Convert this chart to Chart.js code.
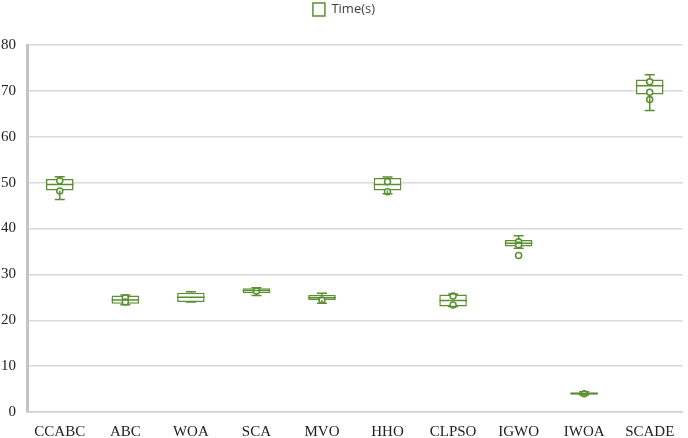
<!DOCTYPE html>
<html>
<head>
<meta charset="utf-8">
<script src="https://cdn.jsdelivr.net/npm/chart.js@4"></script>
<style>
  html, body { margin: 0; padding: 0; background: #fff; }
  #wrap { width: 688px; height: 438px; }
</style>
</head>
<body>
<div id="wrap"><canvas id="boxChart"></canvas></div>
<script>
const categories = ['CCABC', 'ABC', 'WOA', 'SCA', 'MVO', 'HHO', 'CLPSO', 'IGWO', 'IWOA', 'SCADE'];
const q1 = [48.3, 23.6, 24.0, 25.9, 24.4, 48.3, 23.0, 36.1, 3.8, 69.2];
const q3 = [50.8, 25.4, 26.0, 27.0, 25.5, 51.0, 25.6, 37.5, 4.3, 72.5];
const medians = [49.6, 24.4, 25.0, 26.5, 24.9, 49.6, 24.3, 36.8, 4.0, 71.1];
const whiskerLow = [46.3, 23.4, 24.0, 25.4, 23.7, 47.6, 23.0, 35.7, 3.7, 65.7];
const whiskerHigh = [51.3, 25.5, 26.2, 27.1, 25.9, 51.2, 25.7, 38.4, 4.4, 73.5];
const innerPoints = [
  [50.4, 48.2],
  [24.9, 24.0],
  [],
  [26.4],
  [24.4],
  [50.2, 48.0],
  [25.3, 23.3],
  [37.1, 36.4, 34.1],
  [4.0],
  [72.0, 69.7, 68.1]
];

const green = '#5b8f31';

const pointData = [];
innerPoints.forEach((vals, i) => {
  vals.forEach(v => pointData.push({ x: categories[i], y: v }));
});

// whiskers, caps and median lines drawn on top of the boxes
const whiskerPlugin = {
  id: 'whiskers',
  afterDatasetsDraw(chart) {
    const ctx = chart.ctx;
    const x = chart.scales.x;
    const y = chart.scales.y;
    const meta = chart.getDatasetMeta(0);
    ctx.save();
    ctx.strokeStyle = green;
    ctx.lineWidth = 1.5;
    categories.forEach((c, i) => {
      const cx = x.getPixelForValue(i);
      const half = meta.data[i].width / 2;
      const cap = 5;
      ctx.beginPath();
      ctx.moveTo(cx, y.getPixelForValue(q3[i]));
      ctx.lineTo(cx, y.getPixelForValue(whiskerHigh[i]));
      ctx.moveTo(cx - cap, y.getPixelForValue(whiskerHigh[i]));
      ctx.lineTo(cx + cap, y.getPixelForValue(whiskerHigh[i]));
      ctx.moveTo(cx, y.getPixelForValue(q1[i]));
      ctx.lineTo(cx, y.getPixelForValue(whiskerLow[i]));
      ctx.moveTo(cx - cap, y.getPixelForValue(whiskerLow[i]));
      ctx.lineTo(cx + cap, y.getPixelForValue(whiskerLow[i]));
      ctx.moveTo(cx - half, y.getPixelForValue(medians[i]));
      ctx.lineTo(cx + half, y.getPixelForValue(medians[i]));
      ctx.stroke();
    });
    ctx.restore();
  }
};

// extra room under the legend
const legendMargin = {
  id: 'legendMargin',
  beforeInit(chart) {
    const fit = chart.legend.fit;
    chart.legend.fit = function () {
      fit.bind(chart.legend)();
      this.height += 19;
    };
  }
};

const ctx = document.getElementById('boxChart').getContext('2d');
new Chart(ctx, {
  data: {
    labels: categories,
    datasets: [
      {
        type: 'bar',
        label: 'Time(s)',
        data: categories.map((c, i) => [q1[i], q3[i]]),
        backgroundColor: '#ffffff',
        borderColor: green,
        borderWidth: 1.5,
        borderSkipped: false,
        barPercentage: 0.42,
        categoryPercentage: 1.0,
        order: 2
      },
      {
        type: 'scatter',
        label: 'points',
        data: pointData,
        pointStyle: 'circle',
        pointRadius: 3,
        pointBackgroundColor: '#ffffff',
        pointBorderColor: green,
        pointBorderWidth: 1.5,
        order: 1
      }
    ]
  },
  options: {
    responsive: true,
    maintainAspectRatio: false,
    animation: false,
    layout: { padding: { left: 0, right: 0, top: 0, bottom: -14 } },
    plugins: {
      legend: {
        position: 'top',
        labels: {
          filter: item => item.text === 'Time(s)',
          boxWidth: 12,
          boxHeight: 13,
          color: '#404040',
          font: { family: 'Open Sans', size: 13 },
          padding: 3
        }
      },
      tooltip: { enabled: false }
    },
    scales: {
      x: {
        type: 'category',
        offset: true,
        grid: { display: false, drawTicks: false },
        border: { color: '#d0d0d0', width: 1.5 },
        ticks: {
          color: '#222',
          font: { family: 'Liberation Serif', size: 15 },
          padding: 11
        }
      },
      y: {
        min: 0,
        max: 80,
        ticks: {
          stepSize: 10,
          color: '#222',
          font: { family: 'Liberation Serif', size: 15 },
          padding: 11
        },
        grid: { color: '#d9d9d9', lineWidth: 1.5, drawTicks: false },
        border: { color: '#c4c4c4', width: 3 },
        afterFit: scale => {
          scale.width -= 10;
        }
      }
    }
  },
  plugins: [whiskerPlugin, legendMargin]
});
</script>
</body>
</html>
